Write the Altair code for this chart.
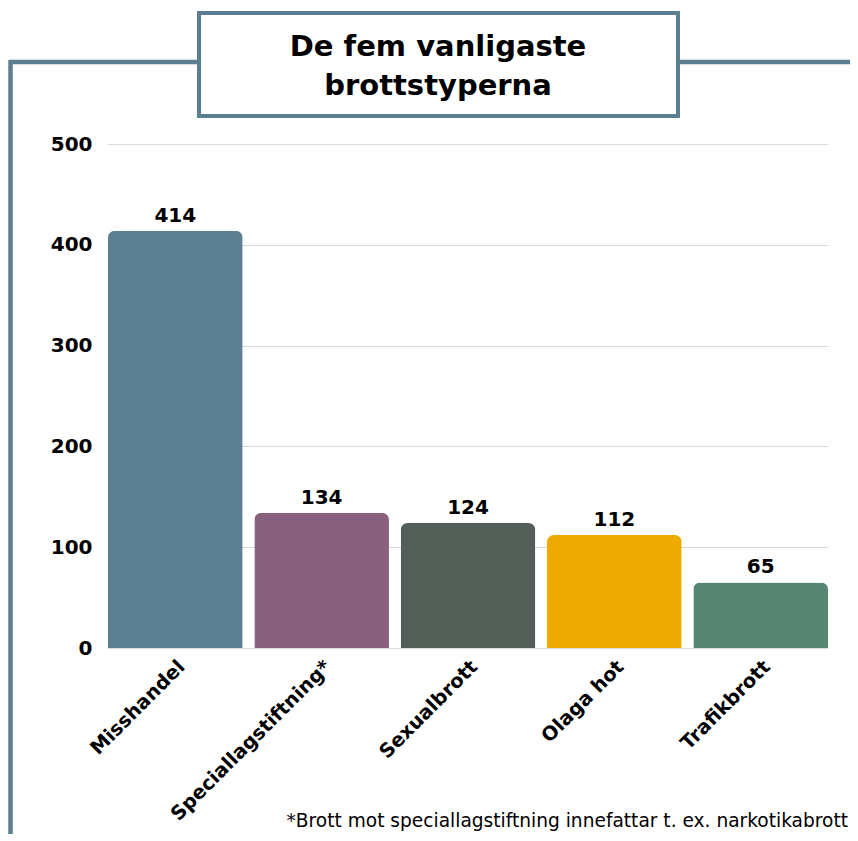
import altair as alt
import pandas as pd

categories = ["Misshandel", "Speciallagstiftning*", "Sexualbrott", "Olaga hot", "Trafikbrott"]
values = [414, 134, 124, 112, 65]
bar_colors = ["#5D7F92", "#89607D", "#545E59", "#EFAA00", "#568672"]
title_lines = ["De fem vanligaste", "brottstyperna"]
footnote = "*Brott mot speciallagstiftning innefattar t. ex. narkotikabrott"
y_ticks = [0, 100, 200, 300, 400, 500]

FRAME = "#5B7E91"
FONT = "DejaVu Sans"

df = pd.DataFrame({"kategori": categories, "antal": values})
one = pd.DataFrame({"a": [0]})

x_enc = alt.X("kategori:N", sort=categories,
              scale=alt.Scale(paddingInner=0.08, paddingOuter=0),
              axis=alt.Axis(title=None, labelAngle=-45, domain=False, ticks=False,
                            labelFont=FONT, labelFontWeight="bold", labelFontSize=19.5,
                            labelColor="black", labelPadding=9, labelLimit=400))
y_enc = alt.Y("antal:Q", scale=alt.Scale(domain=[0, 500], nice=False),
              axis=alt.Axis(title=None, values=y_ticks, domain=False, ticks=False,
                            grid=True, gridColor="#D9D9D9", gridWidth=1,
                            labelFont=FONT, labelFontWeight="bold", labelFontSize=20,
                            labelColor="black", labelPadding=16))

bars = alt.Chart(df).mark_bar(cornerRadiusTopLeft=7, cornerRadiusTopRight=7).encode(
    x=x_enc, y=y_enc,
    color=alt.Color("kategori:N", sort=categories,
                    scale=alt.Scale(domain=categories, range=bar_colors), legend=None),
)

labels = alt.Chart(df).mark_text(baseline="bottom", dy=-5, font=FONT, fontWeight="bold",
                                 fontSize=20, color="black").encode(
    x=alt.X("kategori:N", sort=categories), y="antal:Q", text="antal:Q")

frame_left = alt.Chart(one).mark_rule(color=FRAME, strokeWidth=4.5).encode(
    x=alt.value(-97.5), y=alt.value(-84), y2=alt.value(720))
frame_top = alt.Chart(one).mark_rule(color=FRAME, strokeWidth=4.5).encode(
    x=alt.value(-99), x2=alt.value(760), y=alt.value(-82))
title_box = alt.Chart(one).mark_rect(fill="white", stroke=FRAME, strokeWidth=4).encode(
    x=alt.value(91), x2=alt.value(570), y=alt.value(-131), y2=alt.value(-28))
title1 = alt.Chart(one).mark_text(font=FONT, fontWeight="bold", fontSize=29, color="black",
                                  align="center", baseline="alphabetic").encode(
    x=alt.value(330), y=alt.value(-88), text=alt.value(title_lines[0]))
title2 = alt.Chart(one).mark_text(font=FONT, fontWeight="bold", fontSize=29, color="black",
                                  align="center", baseline="alphabetic").encode(
    x=alt.value(330), y=alt.value(-49), text=alt.value(title_lines[1]))
note = alt.Chart(one).mark_text(font=FONT, fontSize=18.6, color="black",
                                align="right", baseline="alphabetic").encode(
    x=alt.value(740), y=alt.value(683), text=alt.value(footnote))

chart = alt.layer(frame_left, frame_top, bars, labels, title_box, title1, title2, note).properties(
    width=720, height=504,
    background="white",
    autosize=alt.AutoSizeParams(type="none"),
    padding={"left": 100, "top": 136, "right": 22, "bottom": 186},
).configure_view(stroke=None, strokeWidth=0)

chart.save("out.html", embed_options={"renderer": "svg", "actions": False})
